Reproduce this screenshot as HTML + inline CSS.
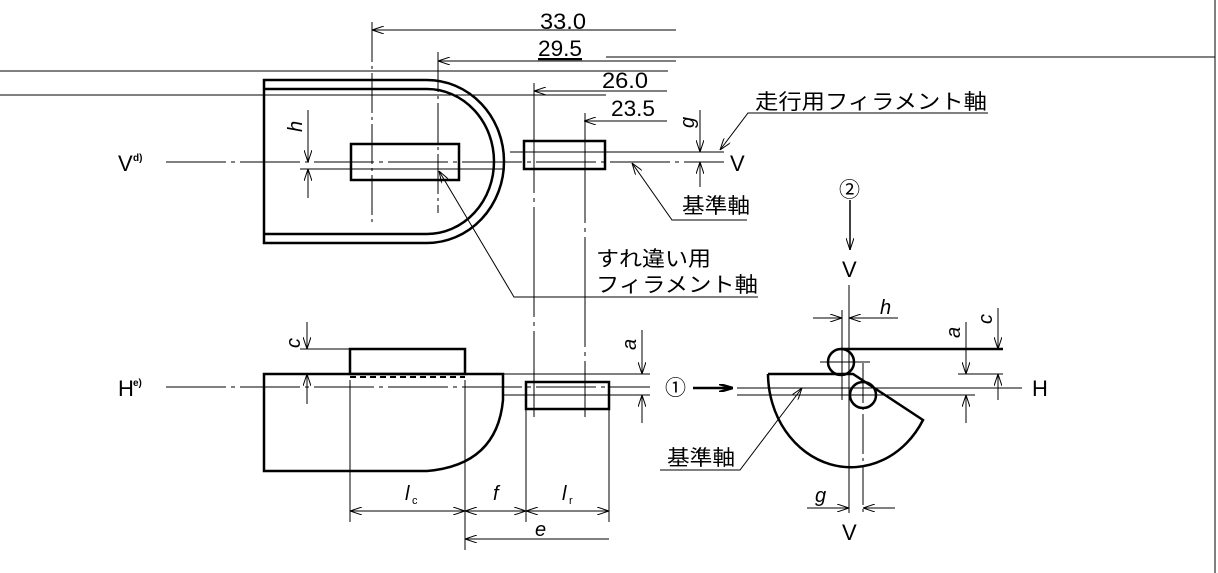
<!DOCTYPE html>
<html><head><meta charset="utf-8"><style>
html,body{margin:0;padding:0;background:#fff;}
svg{display:block;}
text{font-family:"Liberation Sans","Noto Sans CJK JP",sans-serif;fill:#000;}
.it{font-style:italic;}
</style></head><body>
<svg width="1218" height="573" viewBox="0 0 1218 573" xmlns="http://www.w3.org/2000/svg">
<defs>
<marker id="a" viewBox="0 0 12 8" refX="12" refY="4" markerWidth="12" markerHeight="8" markerUnits="userSpaceOnUse" orient="auto-start-reverse">
<path d="M0,0 L12,4 L0,8" fill="none" stroke="#000" stroke-width="1"/></marker>
<marker id="b" viewBox="0 0 14 8" refX="14" refY="4" markerWidth="14" markerHeight="8" markerUnits="userSpaceOnUse" orient="auto">
<path d="M0,0 L14,4 L0,8" fill="none" stroke="#000" stroke-width="2.5"/></marker>
</defs>
<g stroke="#000" fill="none" stroke-width="1">
<line x1="1215" y1="0" x2="1215" y2="573"/>
<line x1="606" y1="57" x2="1215" y2="57"/>
<line x1="0" y1="71" x2="668" y2="71"/>
<line x1="0" y1="95" x2="606" y2="95"/>
<line x1="676" y1="30" x2="372" y2="30" marker-end="url(#a)"/>
<line x1="676" y1="61" x2="438" y2="61" marker-end="url(#a)"/>
<line x1="667" y1="91" x2="534" y2="91" marker-end="url(#a)"/>
<line x1="667" y1="121" x2="584" y2="121" marker-end="url(#a)"/>
<line x1="372" y1="22" x2="372" y2="222" stroke-dasharray="40,4,3,4"/>
<line x1="438" y1="52" x2="438" y2="213" stroke-dasharray="40,4,3,4"/>
<line x1="534" y1="83" x2="534" y2="417" stroke-dasharray="110,5,4,5"/>
<line x1="585" y1="113" x2="585" y2="417" stroke-dasharray="110,5,4,5"/>
<path d="M427,80 L264,80 L264,243 L427,243 A77,81.5 0 0 0 427,80 Z" stroke-width="2.5"/>
<path d="M264,89 L427,89 A67,72.5 0 0 1 427,234 L264,234" stroke-width="2.5"/>
<rect x="351" y="144" width="108" height="36" stroke-width="2.5"/>
<rect x="524" y="141" width="81" height="28" stroke-width="2.5"/>
<line x1="166" y1="162" x2="724" y2="162" stroke-dasharray="60,5,4,5"/>
<line x1="300" y1="169" x2="504" y2="169"/>
<line x1="510" y1="152" x2="724" y2="152"/>
<line x1="308" y1="110" x2="308" y2="162" marker-end="url(#a)"/>
<line x1="308" y1="198" x2="308" y2="169" marker-end="url(#a)"/>
<line x1="700" y1="110" x2="700" y2="152" marker-end="url(#a)"/>
<line x1="700" y1="187" x2="700" y2="162" marker-end="url(#a)"/>
<polyline points="988,113 748,113 720,150" marker-end="url(#a)"/>
<polyline points="747,220 672,220 632,163" marker-end="url(#a)"/>
<polyline points="758,297 514,297 439,171" marker-end="url(#a)"/>
<line x1="850" y1="200" x2="850" y2="250" stroke-width="1.5" marker-end="url(#a)"/>
<path d="M264,374 L503,374 L503,400 Q497,465 427,471 L264,471 Z" stroke-width="2.5"/>
<rect x="350" y="349" width="115" height="25" stroke-width="2.5"/>
<line x1="350" y1="377" x2="465" y2="377" stroke-dasharray="6,4" stroke-width="2"/>
<line x1="166" y1="387" x2="650" y2="387" stroke-dasharray="60,5,4,5"/>
<line x1="503" y1="374" x2="650" y2="374"/>
<line x1="503" y1="395" x2="650" y2="395"/>
<rect x="526" y="382" width="83" height="27" stroke-width="2.5"/>
<line x1="300" y1="349" x2="350" y2="349"/>
<line x1="307" y1="322" x2="307" y2="349" marker-end="url(#a)"/>
<line x1="307" y1="404" x2="307" y2="374" marker-end="url(#a)"/>
<line x1="642" y1="330" x2="642" y2="374" marker-end="url(#a)"/>
<line x1="642" y1="423" x2="642" y2="395" marker-end="url(#a)"/>
<line x1="350" y1="380" x2="350" y2="522"/>
<line x1="465" y1="380" x2="465" y2="550"/>
<line x1="526" y1="409" x2="526" y2="522"/>
<line x1="609" y1="409" x2="609" y2="522"/>
<line x1="350" y1="511" x2="465" y2="511" marker-start="url(#a)" marker-end="url(#a)"/>
<line x1="465" y1="511" x2="526" y2="511" marker-start="url(#a)" marker-end="url(#a)"/>
<line x1="526" y1="511" x2="609" y2="511" marker-start="url(#a)" marker-end="url(#a)"/>
<line x1="609" y1="539" x2="465" y2="539" marker-end="url(#a)"/>
<line x1="693" y1="388" x2="733" y2="388" stroke-width="2.5" marker-end="url(#b)"/>
<line x1="849" y1="285" x2="849" y2="513"/>
<line x1="842" y1="310" x2="842" y2="400"/>
<line x1="863" y1="363" x2="863" y2="513" stroke-dasharray="40,4,3,4"/>
<line x1="813" y1="318" x2="842" y2="318" marker-end="url(#a)"/>
<line x1="898" y1="318" x2="849" y2="318" marker-end="url(#a)"/>
<circle cx="841" cy="362" r="13" stroke-width="2.5"/>
<line x1="820" y1="362" x2="870" y2="362"/>
<line x1="841" y1="349" x2="1003" y2="349" stroke-width="2.5"/>
<path d="M768,374 L853,374 L923,420 A83,94 0 0 1 768,374" stroke-width="2.5"/>
<circle cx="863" cy="395" r="13" stroke-width="2.5"/>
<line x1="737" y1="388" x2="1022" y2="388"/>
<line x1="737" y1="395" x2="975" y2="395"/>
<line x1="958" y1="374" x2="1003" y2="374"/>
<line x1="966" y1="322" x2="966" y2="374" marker-end="url(#a)"/>
<line x1="966" y1="423" x2="966" y2="395" marker-end="url(#a)"/>
<line x1="998" y1="308" x2="998" y2="349" marker-end="url(#a)"/>
<line x1="998" y1="400" x2="998" y2="374" marker-end="url(#a)"/>
<polyline points="660,470 740,470 802,388" marker-end="url(#a)"/>
<line x1="807" y1="508" x2="849" y2="508" marker-end="url(#a)"/>
<line x1="895" y1="508" x2="863" y2="508" marker-end="url(#a)"/>
</g>
<g font-size="22">
<text x="540" y="29" textLength="46" lengthAdjust="spacingAndGlyphs">33.0</text>
<text x="538" y="56" textLength="44" lengthAdjust="spacingAndGlyphs" text-decoration="underline">29.5</text>
<text x="602" y="88" textLength="46" lengthAdjust="spacingAndGlyphs">26.0</text>
<text x="611" y="116" textLength="44" lengthAdjust="spacingAndGlyphs">23.5</text>
</g>
<g font-size="21">
<text x="755" y="109" textLength="232" lengthAdjust="spacingAndGlyphs">走行用フィラメント軸</text>
<text x="682" y="213" textLength="68" lengthAdjust="spacingAndGlyphs">基準軸</text>
<text x="596" y="266" textLength="115" lengthAdjust="spacingAndGlyphs">すれ違い用</text>
<text x="596" y="292" textLength="162" lengthAdjust="spacingAndGlyphs">フィラメント軸</text>
<text x="667" y="465" textLength="68" lengthAdjust="spacingAndGlyphs">基準軸</text>
</g>
<g font-size="22">
<text x="730" y="171">V</text>
<text x="842" y="277">V</text>
<text x="842" y="540">V</text>
<text x="1032" y="396">H</text>
<text x="118" y="171">V</text>
<text x="118" y="396">H</text>
<text x="839" y="197" font-size="21">②</text>
<text x="665" y="395" font-size="21">①</text>
</g>
<g font-size="10" font-weight="bold">
<text x="133" y="161">d)</text>
<text x="133" y="386">e)</text>
</g>
<g font-size="20" class="it">
<text transform="translate(302,132) rotate(-90)">h</text>
<text transform="translate(694,128) rotate(-90)">g</text>
<text transform="translate(300,348) rotate(-90)">c</text>
<text transform="translate(636,350) rotate(-90)">a</text>
<text transform="translate(960,338) rotate(-90)">a</text>
<text transform="translate(992,324) rotate(-90)">c</text>
<text x="880" y="314">h</text>
<text x="815" y="502">g</text>
<text x="405" y="500">l</text><text x="412" y="504" font-size="11" font-style="normal">c</text>
<text x="493" y="500">f</text>
<text x="562" y="500">l</text><text x="569" y="504" font-size="11" font-style="normal">r</text>
<text x="535" y="536">e</text>
</g>
</svg>
</body></html>
